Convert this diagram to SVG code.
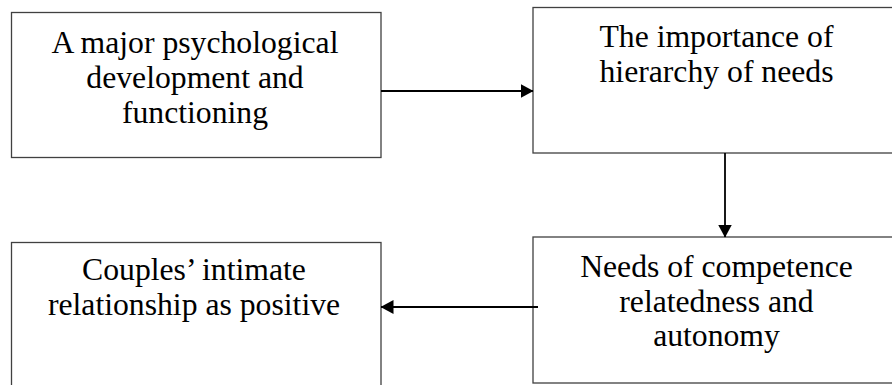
<svg xmlns="http://www.w3.org/2000/svg" width="892" height="385" viewBox="0 0 892 385">
<style>
.box{fill:#fff;stroke:#404040;stroke-width:1.3}
.t{font-family:"Liberation Serif","Times New Roman",serif;font-size:31.7px;fill:#000;text-anchor:middle}
.c{stroke:#000;stroke-width:1.8;fill:none}
</style>
<defs>
<marker id="ah" markerWidth="13" markerHeight="14" refX="12.5" refY="7" orient="auto" markerUnits="userSpaceOnUse">
<path d="M0,0 L13,7 L0,14 z" fill="#000"/>
</marker>
</defs>
<rect width="892" height="385" fill="#fff"/>
<g id="n1">
<rect class="box" x="11.5" y="12.5" width="369.5" height="145"/>
<text class="t" x="195" y="53">A major psychological</text>
<text class="t" x="195" y="88">development and</text>
<text class="t" x="195" y="123">functioning</text>
</g>
<g id="n2">
<rect class="box" x="533" y="7.5" width="370" height="145.5"/>
<text class="t" x="716.5" y="47">The importance of</text>
<text class="t" x="716.5" y="82">hierarchy of needs</text>
</g>
<g id="n3">
<rect class="box" x="533" y="237" width="370" height="146"/>
<text class="t" x="716.5" y="277">Needs of competence</text>
<text class="t" x="716.5" y="312">relatedness and</text>
<text class="t" x="716.5" y="346">autonomy</text>
</g>
<g id="n4">
<rect class="box" x="11.5" y="242.5" width="369.5" height="160"/>
<text class="t" x="194" y="280">Couples’ intimate</text>
<text class="t" x="194" y="315">relationship as positive</text>
</g>
<g id="connectors">
<line class="c" x1="381" y1="91" x2="533" y2="91" marker-end="url(#ah)"/>
<line class="c" x1="725" y1="153" x2="725" y2="237" marker-end="url(#ah)"/>
<line class="c" x1="538" y1="307" x2="381" y2="307" marker-end="url(#ah)"/>
</g>
</svg>
